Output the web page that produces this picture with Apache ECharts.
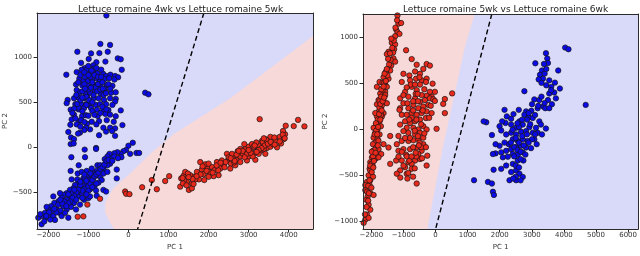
<!DOCTYPE html>
<html><head><meta charset="utf-8">
<script src="https://cdn.jsdelivr.net/npm/echarts@6/dist/echarts.min.js"></script>
<style>html,body{margin:0;padding:0;background:#fff}#c{width:640px;height:256px}</style>
</head><body><div id="c"></div>
<script>
// ---------- texts ----------
const titleA = 'Lettuce romaine 4wk vs Lettuce romaine 5wk';
const titleB = 'Lettuce romaine 5wk vs Lettuce romaine 6wk';
const xName = 'PC 1';
const yName = 'PC 2';

// ---------- axis ranges ----------
const xRangeA = [-2282, 4606];
const yRangeA = [-905, 1487];
const xRangeB = [-2262, 6312];
const yRangeB = [-1090, 1248];

// ---------- decision regions (red class region polygons) ----------
const redRegionA = [[4606,1232],[2542,543],[1125,145],[542,-72],[42,-290],[-375,-453],[-583,-616],[-583,-725],[-458,-833],[-358,-905],[4606,-905]];
const redRegionB = [[-2262,1248],[1219,1248],[909,883],[599,384],[238,-185],[-258,-1090],[-2262,-1090]];

// ---------- dashed separating lines ----------
const dashA = [[1883,1487],[229,-905]];
const dashB = [[1752,1248],[0,-1090]];

// ---------- left plot: class "4wk" (blue) ----------
const blueA = [
[-700,1145],[-458,1134],[-933,1040],[-725,1043],[-517,1058],[-1275,1058],[-992,978],[-800,942],[-575,949],[-267,985],
[-192,975],[-1183,935],[-875,909],[-1092,877],[-167,859],[-1550,804],[-1292,833],[-1167,859],[-1042,859],[-942,826],
[-833,844],[-775,819],[-633,815],[-558,790],[-450,804],[-333,790],[-258,775],[-1225,761],[-1117,735],[-1008,735],
[-908,754],[-783,761],[-708,743],[-600,754],[-483,764],[-350,750],[-1308,696],[-1150,685],[-1025,681],[-883,688],
[-775,696],[-700,670],[-542,688],[-400,681],[-1292,634],[-1208,609],[-1067,598],[-958,605],[-833,623],[-692,598],
[-583,627],[-433,605],[-317,609],[-1517,525],[-1358,543],[-1250,551],[-1108,543],[-1025,554],[-867,543],[-742,543],
[-608,525],[-458,543],[-317,536],[-1542,489],[-1325,478],[-1183,478],[-1058,478],[-975,464],[-817,471],[-708,478],
[-558,478],[-333,507],[-1442,417],[-1242,420],[-1108,435],[-933,435],[-783,417],[-625,417],[-500,413],[-192,409],
[-1358,362],[-1158,344],[-1058,355],[-767,348],[-575,370],[-458,362],[-317,344],[-1417,308],[-1225,290],[-917,283],
[-733,290],[-542,301],[-367,283],[-1292,254],[-1033,261],[-800,254],[-625,217],[-458,217],[-333,210],[-150,246],
[-1500,170],[-1208,163],[-958,199],[-558,174],[-408,181],[-333,127],[-1433,109],[-1358,91],[-1258,152],[-733,134],
[-1442,36],[-1367,43],[-1092,-25],[-808,-7],[-1425,-109],[-1058,217],[-1100,192],
[-550,1460],[-500,1490],[417,605],[500,587],
[-950,780],[-900,720],[-850,800],[-820,660],[-760,700],[-1000,640],[-1080,780],[-870,580],[-780,620],[-940,660],
[-1150,620],[-1050,560],[-700,640],[-650,720],[-620,580],[-980,520],[-900,500],[-1100,700],[-1200,520],[-1250,440],
[-1300,580],[-860,870],[-1000,900],[-680,860],[-900,400],[-1150,400],[-700,380],[-600,650],[-1050,470],[-1180,300],
[-1250,720],[-1200,800],[-1100,830],[-1000,800],[-920,850],[-800,880],[-760,780],[-680,780],[-640,650],[-560,600],
[-500,700],[-450,650],[-1080,650],[-1150,550],[-1280,480],[-1350,430],[-1400,380],[-1320,320],[-1100,280],[-1000,350],
[-850,360],[-650,450],[-550,420],[-400,470],[-1200,230],[-1450,250],
[108,51],[0,18],[-58,-29],[-125,-43],[-192,-72],[-275,-54],[-350,-65],[-417,-109],[-475,-72],[-525,-101],
[-592,-130],[200,-62],[267,-62],[-458,-181],[-525,-199],[-625,-235],[-708,-254],[-792,-261],[-858,-290],[-917,-308],
[-958,-344],[-1042,-326],[-1125,-344],[-1183,-380],[-1250,-399],[-1333,-417],[-1375,-453],[-1458,-471],[-1542,-507],[-1625,-525],
[-1667,-554],[-1750,-598],[-1850,-616],[-1933,-652],[-2000,-688],[-2083,-725],[-2167,-761],[-2250,-779],[-2167,-851],[-2058,-779],
[-1958,-750],[-1875,-761],[-1833,-804],[-1725,-725],[-1625,-652],[-1567,-587],[-1475,-543],[-1417,-580],[-1333,-525],[-1275,-489],
[-1208,-453],[-1142,-428],[-1083,-417],[-1025,-399],[-975,-362],[-875,-344],[-792,-308],[-708,-326],[-625,-290],[-667,-362],
[-750,-391],[-850,-435],[-958,-464],[-1067,-489],[-1167,-507],[-1267,-543],[-1358,-616],[-1433,-659],[-1542,-688],[-1667,-761],
[-1792,-688],[-2042,-659],[-1875,-543],[-1708,-507],[-1417,-355],[-1267,-290],[-1042,-261],[-917,-235],[-775,-199],[-525,-272],
[-292,-344],[-625,-471],[-558,-489],[-792,-536],[-1108,-580],[-1308,-688],[-1500,-779],[-1083,-109],[-808,-18],[-1442,-261],
[-1242,-199],[-292,-246],[-175,-109],[42,-72],[-708,-199],[-1000,-562],[-1208,-634],[-1583,-725],[-1750,-634],[-1392,-507],
[-1542,-580],[-1083,-344],[-917,-399],[-1167,-272],[-1275,-355],[-808,-478],[-958,-543],
[-1100,-460],[-1000,-430],[-950,-400],[-1050,-370],[-1200,-420],[-1150,-480],[-900,-360],[-850,-320],[-1250,-470],[-1300,-500],
[-1350,-540],[-1400,-560],[-1450,-600],[-1500,-620],[-1000,-480],[-800,-300],[-750,-280],[-700,-240],[-650,-220],[-600,-190],
[-550,-150],[-500,-140],[-1700,-700],[-1800,-720],[-1900,-700],[-1950,-800],[-2100,-820],[-2200,-740],
[-1600,-600],[-1650,-620],[-1500,-520],[-1550,-650],[-1350,-470],[-1200,-380],[-1100,-300],[-950,-290],[-1050,-520],[-1150,-560],
[-1300,-580],[-1700,-580],[-1850,-680],[-1980,-720],[-2050,-760],[-400,-150],[-350,-100],[-260,-120],[-900,-440],[-800,-400]
];

// ---------- left plot: class "5wk" (red) ----------
const redA = [
[-708,-569],[-1025,-634],[-1267,-768],[-1125,-764],[-83,-489],[-58,-514],[25,-518],
[342,-442],[583,-362],[708,-464],[917,-373],[1017,-319],[1292,-435],[1317,-344],[1375,-315],[1417,-272],[1508,-471],
[1458,-380],[1583,-399],[1625,-326],[1708,-272],[1758,-355],[1833,-246],[1875,-297],[1958,-225],[2025,-272],[2083,-217],
[2142,-254],[2208,-163],[2250,-308],[2333,-145],[2375,-199],[2458,-72],[2483,-145],[2558,-181],[2625,-116],[2692,-138],
[2725,-43],[2792,-101],[2858,-72],[2917,-18],[2958,-145],[3008,-101],[3058,-43],[3125,-72],[3167,-138],[3208,-7],
[3258,18],[3308,-36],[3375,36],[3417,-72],[3458,-7],[3500,65],[3542,7],[3608,36],[3667,72],[3708,0],
[3775,116],[3808,43],[3875,91],[3908,145],[3925,239],[4125,235],[4233,304],[4392,232],[3275,312],[1792,-163],
[1917,-188],[2292,-235],[2583,-72],[2792,-18],[3000,7],[3083,36],[3192,54],[3333,72],[3417,91],[3542,116],
[3642,109],[3775,65],[3858,181],[3375,-18],[3250,-72],[2792,-163],[2667,-199],[2542,-235],[2425,-163],[2125,-319],
[2000,-326],[1892,-362],[1667,-355],[1542,-308],[1483,-290],[1392,-362],[1358,-399],[1583,-453],[1625,-406],[2242,-254],
[2642,-167],[2958,-72],[2892,36],[3125,7],
[3350,60],[3400,20],[3450,80],[3380,100],[3320,-10],[3480,40],[3250,-30],[3200,-50],[3100,-100],[3050,-60],
[2900,-110],[2850,-40],[2700,-80],[2650,-150],[2500,-110],[2400,-220],[2200,-200],[2100,-280],[1950,-260],[1800,-300],
[1700,-320],[1600,-350],[1500,-330],[1450,-420],[1350,-340],[1850,-210],[2000,-180],[2300,-170],[2550,-120],[2750,-40],
[3000,-30],[3150,20],[3550,60],[3650,30],[3850,140],[3900,100]
];

// ---------- right plot: class "5wk" (red) ----------
const redB = [
[-1188,1232],[-1157,1143],[-1074,1150],[-1229,1079],[-1188,1050],[-1126,1032],[-1260,1007],[-1364,936],[-1260,918],[-1291,865],
[-1322,829],[-1467,837],[-1519,812],[-1312,765],[-1260,730],[-1384,687],[-1415,634],[-1539,580],[-1467,545],[-1622,562],
[-1746,509],[-1653,502],[-1570,481],[-1519,456],[-1828,456],[-1570,402],[-1725,384],[-1643,338],[-1777,313],[-1622,295],
[-1828,267],[-1704,224],[-1766,189],[-1622,171],[-1673,135],[-1828,135],[-1746,82],[-1849,46],[-1704,28],[-1808,-7],
[-1880,-43],[-1746,-61],[-1932,-96],[-1808,-114],[-1880,-150],[-1952,-167],[-1849,-203],[-1952,-239],[-1911,-274],[-1983,-310],
[-1880,-328],[-2035,-363],[-1963,-399],[-2056,-434],[-2014,-470],[-2087,-506],[-2035,-559],[-2138,-577],[-2056,-612],[-2190,-666],
[-2035,-701],[-2118,-737],[-1932,-719],[-2159,-772],[-2087,-826],[-2035,-879],[-2138,-933],[-2190,-986],[-2242,-1022],[-2087,-968],
[-1570,367],[-1673,253],[-1519,278],[-1880,171],[-1932,11],[-1777,-221],[-1849,-274],[-1694,-274],[-2035,-452],[-2190,-612],
[-2138,-684],[-1622,-167],[-1777,-310],
[-1750,300],[-1700,150],[-1800,100],[-1850,-20],[-1900,-60],[-1780,-130],[-1900,-230],[-1950,-300],[-2000,-380],[-1650,420],
[-1600,500],[-1550,620],[-1450,700],[-1400,750],[-1350,880],[-1300,960],[-1700,350],[-1750,230],[-1800,-180],[-1950,-520],
[-2100,-620],[-2200,-930],[-1500,580],
[-2150,-850],[-2100,-780],[-2080,-700],[-2000,-640],[-2060,-560],[-1990,-470],[-2040,-400],[-1940,-420],[-1920,-350],[-1990,-250],
[-1870,-260],[-1820,-60],[-1860,60],[-1790,20],[-1720,100],[-1760,160],[-1680,200],[-1720,270],[-1650,300],[-1600,340],
[-1690,430],[-1620,460],[-1550,520],[-1590,600],[-1520,650],[-1480,760],[-1420,820],[-1380,980],[-1250,1100],[-1200,1180],
[-919,854],[-744,758],[-589,697],[-382,651],[-279,704],[-176,687],[-486,598],[-640,623],[-816,580],[-1002,598],
[-1054,509],[-795,527],[-609,545],[-434,527],[-279,545],[-93,491],[-21,402],[-124,349],[-279,360],[-434,367],
[-589,420],[-744,456],[-950,402],[-1105,331],[-1002,367],[-847,349],[-640,331],[-486,295],[-331,313],[-176,331],
[-227,260],[-382,242],[-537,224],[-692,260],[-847,224],[-1002,278],[-1105,224],[-1054,153],[-899,153],[-744,171],
[-589,153],[-434,171],[-279,189],[-124,171],[-300,117],[-486,100],[-640,82],[-795,64],[-950,82],[-1105,46],
[-899,11],[-692,11],[-537,-7],[-382,28],[-279,-7],[-486,-43],[-640,-61],[-847,-43],[-1002,-25],[-1157,-78],
[-1415,-78],[-1209,-167],[-1054,-132],[-847,-132],[-692,-125],[-537,-114],[-382,-96],[-1002,-221],[-795,-221],[-589,-203],
[-434,-239],[-1157,-239],[-1229,-345],[-1054,-345],[-847,-363],[-640,-345],[-486,-328],[-279,-399],[-950,-417],[-744,-381],
[-1105,-452],[-899,-488],[-878,-541],[-589,-595],[-1467,-203],[-1415,-381],[-1209,-488],[31,0],[-72,320],[-21,303],
[-878,278],[-176,402],[-816,-345],[-744,-434],[-919,-281],[-1157,-303],[-258,-292],[-775,481],[-486,481],[-640,481],
[-300,509],[-1126,206],[-382,-167],[-537,-274],
[517,385],[289,324],[238,271],[289,171],
[-700,200],[-600,100],[-550,300],[-650,-20],[-450,50],[-400,200],[-500,-150],[-700,-200],[-800,-100],[-600,-300],
[-350,-50],[-750,120],[-550,-80],[-450,-200],[-620,380],[-900,-300],[-1000,-400],[-650,-430],
[-900,450],[-700,300],[-560,380],[-820,100],[-950,-100],[-1050,-250],[-750,-300],[-620,-260],[-520,-180],[-420,-320],
[-300,-200],[-200,120],[-150,250],[-350,430],[-500,560],[-850,-480],[-1100,-530],[-700,-520]
];

// ---------- right plot: class "6wk" (blue) ----------
const blueB = [
[4039,883],[4142,865],[3440,822],[3481,765],[3502,715],[3109,712],[3378,705],[3822,634],[3316,634],[3254,587],
[3347,545],[3213,537],[3543,527],[3719,502],[3450,473],[3874,438],[3605,456],[3543,384],[3698,395],[3750,331],
[3502,313],[3626,267],[3357,242],[3078,320],[3233,313],[3419,224],[3182,224],[2768,409],[3543,224],[2985,196],
[2820,189],[2593,206],[2428,160],[2149,206],[2221,135],[2355,109],[2613,81],[2768,153],[2903,125],[3027,117],
[3233,81],[3440,3],[3285,46],[3130,11],[2923,18],[2717,46],[2510,11],[2355,46],[2180,64],[2076,81],
[1994,28],[2045,-18],[2200,-61],[2355,-43],[2510,-61],[2665,-32],[2820,-25],[3027,-43],[3182,-43],[3316,-61],
[3078,-114],[2872,-132],[2717,-114],[2562,-132],[2407,-114],[2283,-167],[2149,-150],[1994,-185],[1870,-167],[1870,-267],
[2045,-256],[2200,-239],[2355,-221],[2510,-196],[2665,-185],[2820,-203],[2975,-210],[2717,-256],[2562,-281],[2407,-274],
[2252,-303],[2097,-310],[2562,-345],[2407,-381],[2200,-399],[2510,-452],[2613,-488],[2717,-523],[2510,-559],[2304,-559],
[2045,-435],[1580,71],[1498,81],[1756,-68],[1787,-274],[1808,-445],[1632,-577],[1787,-684],[1818,-719],[1756,-595],
[1198,-559],[4679,260],[2903,171],[3006,267],[2851,100],[3006,-114],[3151,-167],[2737,-345],[2355,-470],
[2500,-100],[2600,-150],[2700,-80],[2450,-200],[2550,-230],[2650,-250],[2750,-180],[2850,-60],[2400,-10],[2600,20],
[2700,100],[2550,60],[2450,-300],[2650,-330],[2800,-280],[2500,-400],[2600,-420],[2350,-150],[2900,-150],[2950,50],
[3100,150],[3200,250],[3300,350],[3400,280],[3600,420],[3300,500],[3400,600],[3450,650],[2650,-560],[2500,-520],
[2420,-540],[3100,-60]
];

// ---------- styling ----------
const FONT = 'DejaVu Sans';
const BLUE_BG = '#d9d9f9';
const RED_BG = '#f8d9d9';
const BLUE_PT = '#0b0be8';
const RED_PT = '#e8291b';
const minus = v => String(v).replace('-', '\u2212');

function grid(left, top) { return {left, top, width: 276, height: 220, show: true, backgroundColor: BLUE_BG, borderWidth: 0}; }
function mainX(gi, r, split) {
  return {gridIndex: gi, type: 'value', min: r[0], max: r[1], splitNumber: split, position: 'bottom', z: 10,
    axisLine: {show: true, onZero: false, lineStyle: {color: '#2b2b2b', width: 1}},
    axisTick: {show: true, length: 3.5, lineStyle: {color: '#2b2b2b'}},
    axisLabel: {show: true, fontSize: 7, color: '#333', fontFamily: FONT, margin: 3, formatter: minus, showMinLabel: false, showMaxLabel: false},
    splitLine: {show: false},
    name: xName, nameLocation: 'middle', nameGap: 14, nameTextStyle: {fontSize: 7, color: '#333', fontFamily: FONT}};
}
function frameX(gi, r) {
  return {gridIndex: gi, type: 'value', min: r[0], max: r[1], position: 'top', z: 10,
    axisLine: {show: true, onZero: false, lineStyle: {color: '#2b2b2b', width: 1}},
    axisTick: {show: false}, axisLabel: {show: false}, splitLine: {show: false}};
}
function mainY(gi, r, gap) {
  return {gridIndex: gi, type: 'value', min: r[0], max: r[1], splitNumber: 5, position: 'left', z: 10,
    axisLine: {show: true, onZero: false, lineStyle: {color: '#2b2b2b', width: 1}},
    axisTick: {show: true, length: 3.5, lineStyle: {color: '#2b2b2b'}},
    axisLabel: {show: true, fontSize: 7, color: '#333', fontFamily: FONT, margin: 5, formatter: minus, showMinLabel: false, showMaxLabel: false},
    splitLine: {show: false},
    name: yName, nameLocation: 'middle', nameGap: gap, nameRotate: 90, nameTextStyle: {fontSize: 7, color: '#333', fontFamily: FONT}};
}
function frameY(gi, r) {
  return {gridIndex: gi, type: 'value', min: r[0], max: r[1], position: 'right', z: 10,
    axisLine: {show: true, onZero: false, lineStyle: {color: '#2b2b2b', width: 1}},
    axisTick: {show: false}, axisLabel: {show: false}, splitLine: {show: false}};
}
function region(xi, yi, pts) {
  return {type: 'custom', xAxisIndex: xi, yAxisIndex: yi, silent: true, z: 1, clip: true, data: [[0, 0]],
    renderItem: (params, api) => ({type: 'polygon', shape: {points: pts.map(p => api.coord(p))}, style: {fill: RED_BG}})};
}
function dash(xi, yi, pts) {
  return {type: 'line', xAxisIndex: xi, yAxisIndex: yi, data: pts, symbol: 'none', silent: true, z: 4, clip: true,
    lineStyle: {color: '#000', width: 1.4, type: [5, 3]}};
}
function pts(xi, yi, data, color) {
  return {type: 'scatter', xAxisIndex: xi, yAxisIndex: yi, data, symbol: 'circle', symbolSize: 5.4, z: 3, clip: true, silent: true,
    itemStyle: {color, borderColor: '#141414', borderWidth: 0.7, opacity: 1}};
}

const chart = echarts.init(document.getElementById('c'), null, {renderer: 'canvas'});
chart.setOption({
  animation: false,
  backgroundColor: '#fff',
  title: [
    {text: titleA, left: 73, top: 0, textStyle: {fontSize: 9, fontWeight: 'normal', color: '#222', fontFamily: FONT}},
    {text: titleB, left: 398, top: 0, textStyle: {fontSize: 9, fontWeight: 'normal', color: '#222', fontFamily: FONT}}
  ],
  grid: [grid(37, 13), grid(363, 14)],
  xAxis: [mainX(0, xRangeA, 7), frameX(0, xRangeA), mainX(1, xRangeB, 8), frameX(1, xRangeB)],
  yAxis: [mainY(0, yRangeA, 28), frameY(0, yRangeA), mainY(1, yRangeB, 34), frameY(1, yRangeB)],
  series: [
    region(0, 0, redRegionA),
    pts(0, 0, blueA, BLUE_PT),
    pts(0, 0, redA, RED_PT),
    dash(0, 0, dashA),
    region(2, 2, redRegionB),
    pts(2, 2, redB, RED_PT),
    pts(2, 2, blueB, BLUE_PT),
    dash(2, 2, dashB)
  ]
});
</script>
</body></html>
